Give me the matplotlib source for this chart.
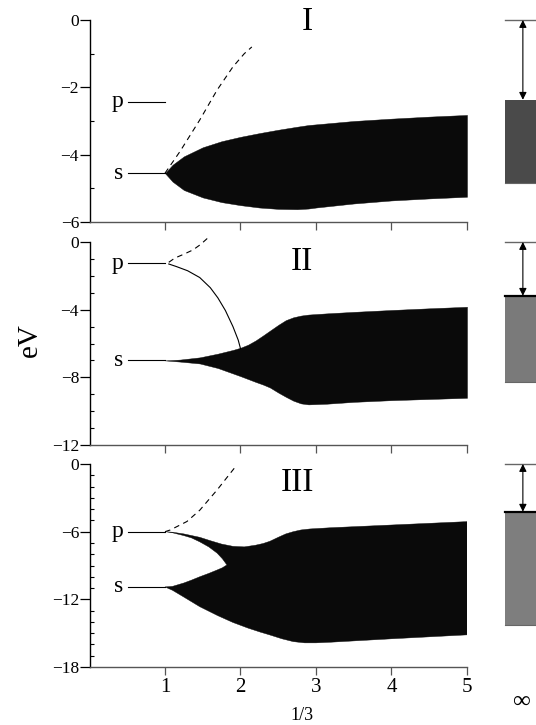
import matplotlib
matplotlib.use('Agg')
import matplotlib.pyplot as plt
from matplotlib.patches import Rectangle
from matplotlib.ticker import MultipleLocator, FixedLocator

plt.rcParams['font.family'] = ['Liberation Serif', 'DejaVu Serif']
plt.rcParams['axes.unicode_minus'] = True

# ---------------- data ----------------
x_ticks = [1, 2, 3, 4, 5]
x_ticklabels = ['1', '2', '3', '4', '5']
panel_names = ['I', 'II', 'III']
y_majors = [[0, -2, -4, -6], [0, -4, -8, -12], [0, -6, -12, -18]]
y_limits = [(-6, 0), (-12, 0), (-18, 0)]

# atomic levels (p, s) for each panel
p_levels = [-2.43, -1.25, -6.0]
s_levels = [-4.55, -7.0, -10.9]

# Panel I band
x1 = [1.0, 1.1, 1.25, 1.5, 1.75, 2.0, 2.25, 2.5, 2.75, 2.9, 3.0, 3.5, 4.0, 4.5, 5.0]
up1 = [-4.55, -4.3, -4.05, -3.78, -3.6, -3.47, -3.36, -3.26, -3.17, -3.12, -3.1, -3.0, -2.93, -2.87, -2.82]
lo1 = [-4.55, -4.8, -5.05, -5.27, -5.41, -5.5, -5.57, -5.61, -5.62, -5.6, -5.57, -5.45, -5.36, -5.3, -5.25]
dash1_x = [1.0, 1.2, 1.46, 1.69, 1.9, 2.05, 2.15]
dash1_y = [-4.55, -3.9, -2.97, -2.08, -1.39, -1.0, -0.8]

# Panel II band
x2 = [1.0, 1.2, 1.46, 1.7, 1.9, 2.0, 2.1, 2.2, 2.3, 2.39, 2.5, 2.6, 2.7, 2.8, 2.9, 3.14, 3.5, 4.0, 4.5, 5.0]
up2 = [-7.0, -6.95, -6.82, -6.6, -6.38, -6.25, -6.07, -5.82, -5.52, -5.24, -4.9, -4.62, -4.45, -4.35, -4.29, -4.22, -4.13, -4.02, -3.92, -3.83]
lo2 = [-7.0, -7.07, -7.18, -7.45, -7.77, -7.93, -8.1, -8.27, -8.43, -8.6, -8.9, -9.15, -9.38, -9.54, -9.6, -9.56, -9.45, -9.35, -9.28, -9.21]
solid2_x = [1.05, 1.15, 1.3, 1.46, 1.6, 1.7, 1.8, 1.9, 1.97, 2.0]
solid2_y = [-1.3, -1.45, -1.7, -2.1, -2.7, -3.3, -4.05, -5.0, -5.8, -6.3]
dash2_x = [1.05, 1.13, 1.25, 1.37, 1.47, 1.57]
dash2_y = [-1.2, -0.95, -0.72, -0.47, -0.15, 0.25]

# Panel III bands
x3 = [1.0, 1.1, 1.25, 1.46, 1.6, 1.75, 1.9, 2.05, 2.2, 2.3, 2.39, 2.5, 2.6, 2.7, 2.8, 2.92, 3.2, 4.0, 5.0]
up3 = [-6.0, -6.05, -6.2, -6.5, -6.8, -7.1, -7.3, -7.35, -7.2, -7.05, -6.85, -6.5, -6.2, -6.0, -5.85, -5.76, -5.65, -5.41, -5.11]
x3b = [1.0, 1.1, 1.25, 1.46, 1.7, 1.9, 2.1, 2.26, 2.39, 2.55, 2.7, 2.85, 3.0, 3.2, 4.0, 5.0]
lo3 = [-10.9, -11.2, -11.8, -12.65, -13.45, -14.05, -14.55, -14.9, -15.16, -15.5, -15.75, -15.86, -15.86, -15.8, -15.5, -15.15]
gap_x = [1.0, 1.1, 1.25, 1.35, 1.46, 1.58, 1.69, 1.76, 1.82]
gap_plo = [-6.0, -6.1, -6.35, -6.55, -6.9, -7.35, -7.9, -8.4, -8.95]
gap_sup = [-10.9, -10.85, -10.55, -10.3, -10.0, -9.7, -9.4, -9.2, -8.95]
dash3_x = [1.0, 1.07, 1.29, 1.46, 1.69, 1.95]
dash3_y = [-6.0, -5.85, -5.1, -4.1, -2.3, -0.1]

# infinite-size limit (right column): top and bottom of band
inf_top = [-2.37, -3.18, -4.23]
inf_bot = [-4.83, -8.27, -14.27]
inf_colors = ['#4a4a4a', '#7a7a7a', '#7e7e7e']

# ---------------- figure ----------------
fig = plt.figure(figsize=(5.36, 7.25), dpi=100)
W, H = 536.0, 725.0
left = 89.5 / W
width = (467 - 89.5) / W
tops = [20, 242, 464]
bots = [222, 445, 667]

axes = []
for i in range(3):
    ax = fig.add_axes([left, 1 - bots[i] / H, width, (bots[i] - tops[i]) / H])
    axes.append(ax)
    ax.set_xlim(0, 5)
    ax.set_ylim(*y_limits[i])
    for sp in ['top', 'right']:
        ax.spines[sp].set_visible(False)
    ax.spines['left'].set_linewidth(1.0)
    ax.spines['bottom'].set_linewidth(1.0)
    ax.spines['bottom'].set_color('#555555')
    ax.yaxis.set_major_locator(FixedLocator(y_majors[i]))
    ax.yaxis.set_minor_locator(MultipleLocator(1))
    ax.set_yticklabels([('\u2212' + str(-v)) if v < 0 else str(v) for v in y_majors[i]])
    ax.tick_params(axis='y', which='major', direction='out', length=7, width=0.9,
                   pad=0.5, labelsize=12.5)
    ax.tick_params(axis='y', which='minor', direction='in', length=3, width=0.8)
    ax.xaxis.set_major_locator(FixedLocator(x_ticks))
    ax.tick_params(axis='x', which='major', direction='out', length=6, width=0.9,
                   color='#555555', pad=2, labelsize=15)
    if i < 2:
        ax.set_xticklabels([])
    else:
        ax.set_xticklabels(x_ticklabels)

    # atomic level markers
    ax.plot([0.51, 1.0], [p_levels[i], p_levels[i]], color='black', lw=0.8)
    ax.plot([0.51, 1.0], [s_levels[i], s_levels[i]], color='black', lw=0.8)
    ax.text(0.45, p_levels[i], 'p', ha='right', va='center', fontsize=17)
    ax.text(0.45, s_levels[i], 's', ha='right', va='center', fontsize=17)

    # infinite limit column
    ax.plot([5.5, 6.4], [0, 0], color='#666666', lw=1.0, clip_on=False)
    ax.add_patch(Rectangle((5.5, inf_bot[i]), 0.9, inf_top[i] - inf_bot[i],
                           facecolor=inf_colors[i], edgecolor='none', clip_on=False))
    ax.plot([5.5, 6.4], [inf_bot[i], inf_bot[i]], color='#666666', lw=0.8, clip_on=False)
    if i > 0:
        ax.plot([5.5, 6.4], [inf_top[i], inf_top[i]], color='black', lw=1.6, clip_on=False)
    ax.annotate('', xy=(5.74, 0), xytext=(5.74, inf_top[i]),
                arrowprops=dict(arrowstyle='<|-|>', color='black', lw=0.8,
                                mutation_scale=11, shrinkA=0, shrinkB=0),
                annotation_clip=False)

band_color = '#0a0a0a'
ax1, ax2, ax3 = axes

# Panel I
ax1.fill_between(x1, lo1, up1, color=band_color, lw=0.3)
ax1.plot(dash1_x, dash1_y, color='black', lw=0.8, ls=(0, (5, 4)))
ax1.text(2.88, -0.05, panel_names[0], ha='center', va='center', fontsize=24, clip_on=False)

# Panel II
ax2.fill_between(x2, lo2, up2, color=band_color, lw=0.3)
ax2.plot(solid2_x, solid2_y, color='black', lw=0.8)
ax2.plot(dash2_x, dash2_y, color='black', lw=0.8, ls=(0, (5, 4)), clip_on=False)
ax2.text(2.81, -1.18, panel_names[1], ha='center', va='center', fontsize=24)

# Panel III: polygon of outer edges with the notch between p and s bands
poly_x = list(x3) + list(x3b[::-1]) + list(gap_x) + list(gap_x[::-1])
poly_y = list(up3) + list(lo3[::-1]) + list(gap_sup) + list(gap_plo[::-1])
ax3.fill(poly_x, poly_y, color=band_color, lw=0.3)
ax3.plot(dash3_x, dash3_y, color='black', lw=0.8, ls=(0, (5, 4)))
ax3.text(2.75, -1.7, panel_names[2], ha='center', va='center', fontsize=24)

fig.text(30 / W, 1 - 340 / H, 'eV', rotation=90, ha='center', va='center', fontsize=21)
fig.text(302 / W, 1 - 715 / H, '1/3', ha='center', va='center', fontsize=13)
fig.text(512 / W, 1 - 702 / H, '\u221e', ha='left', va='center', fontsize=18)

fig.savefig('out.png', dpi=100)
